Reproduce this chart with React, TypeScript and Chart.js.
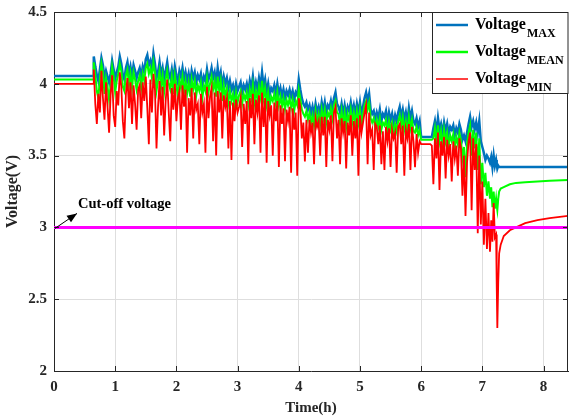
import React, { useEffect, useRef } from "react";
import { Chart, registerables } from "chart.js";

Chart.register(...registerables);

// ---------------- data ----------------
const timeH = [
  0, 0.64,
  0.650, 0.675, 0.700, 0.725, 0.750, 0.775, 0.800, 0.825, 0.850, 0.875,
  0.900, 0.925, 0.950, 0.975, 1.000, 1.025, 1.050, 1.075, 1.100, 1.125,
  1.150, 1.175, 1.200, 1.225, 1.250, 1.275, 1.300, 1.325, 1.350, 1.375,
  1.400, 1.425, 1.450, 1.475, 1.500, 1.525, 1.550, 1.575, 1.600, 1.625,
  1.650, 1.675, 1.700, 1.725, 1.750, 1.775, 1.800, 1.825, 1.850, 1.875,
  1.900, 1.925, 1.950, 1.975, 2.000, 2.025, 2.050, 2.075, 2.100, 2.125,
  2.150, 2.175, 2.200, 2.225, 2.250, 2.275, 2.300, 2.325, 2.350, 2.375,
  2.400, 2.425, 2.450, 2.475, 2.500, 2.525, 2.550, 2.575, 2.600, 2.625,
  2.650, 2.675, 2.700, 2.725, 2.750, 2.775, 2.800, 2.825, 2.850, 2.875,
  2.900, 2.925, 2.950, 2.975, 3.000, 3.025, 3.050, 3.075, 3.100, 3.125,
  3.150, 3.175, 3.200, 3.225, 3.250, 3.275, 3.300, 3.325, 3.350, 3.375,
  3.400, 3.425, 3.450, 3.475, 3.500, 3.525, 3.550, 3.575, 3.600, 3.625,
  3.650, 3.675, 3.700, 3.725, 3.750, 3.775, 3.800, 3.825, 3.850, 3.875,
  3.900, 3.925, 3.950, 3.975, 4.000, 4.025, 4.050, 4.075, 4.100, 4.125,
  4.150, 4.175, 4.200, 4.225, 4.250, 4.275, 4.300, 4.325, 4.350, 4.375,
  4.400, 4.425, 4.450, 4.475, 4.500, 4.525, 4.550, 4.575, 4.600, 4.625,
  4.650, 4.675, 4.700, 4.725, 4.750, 4.775, 4.800, 4.825, 4.850, 4.875,
  4.900, 4.925, 4.950, 4.975, 5.000, 5.025, 5.050, 5.075, 5.100, 5.125,
  5.150, 5.175, 5.200, 5.225, 5.250, 5.275, 5.300, 5.325, 5.350, 5.375,
  5.400, 5.425, 5.450, 5.475, 5.500, 5.525, 5.550, 5.575, 5.600, 5.625,
  5.650, 5.675, 5.700, 5.725, 5.750, 5.775, 5.800, 5.825, 5.850, 5.875,
  5.900, 5.925, 5.950, 5.975, 6.000, 6.025, 6.050, 6.075, 6.100, 6.125,
  6.150, 6.175, 6.200, 6.225, 6.250, 6.275, 6.300, 6.325, 6.350, 6.375,
  6.400, 6.425, 6.450, 6.475, 6.500, 6.525, 6.550, 6.575, 6.600, 6.625,
  6.650, 6.675, 6.700, 6.725, 6.750, 6.775, 6.800, 6.825, 6.850, 6.875,
  6.900, 6.925, 6.950, 6.975, 7.000, 7.025, 7.050, 7.075, 7.100, 7.125,
  7.145, 7.165, 7.185, 7.205, 7.225, 7.235, 7.245, 7.260, 7.275, 7.300,
  7.350, 7.450, 7.550, 7.700, 7.900, 8.100, 8.400,
];

const voltMax = [
  4.055, 4.055,
  4.19, 4.12, 4.06, 4.02, 4.10, 4.18, 4.13, 4.04, 4.09, 4.05,
  4.01, 4.07, 4.16, 4.10, 4.03, 4.08, 4.12, 4.19, 4.14, 4.06,
  4.03, 4.11, 4.15, 4.07, 4.12, 4.05, 4.13, 4.09, 4.04, 4.08,
  4.11, 4.05, 4.12, 4.08, 4.17, 4.20, 4.13, 4.16, 4.10, 4.21,
  4.14, 4.04, 4.08, 4.15, 4.06, 4.11, 4.03, 4.09, 4.15, 4.07,
  4.04, 4.10, 4.02, 4.12, 4.06, 4.01, 4.09, 4.05, 4.11, 4.03,
  4.08, 4.02, 4.07, 4.00, 4.09, 4.04, 4.08, 4.01, 4.06, 4.03,
  4.07, 3.99, 4.05, 4.02, 4.10, 4.03, 4.06, 4.11, 4.04, 4.08,
  4.00, 4.11, 4.03, 4.08, 3.98, 4.05, 4.00, 4.04, 3.97, 4.02,
  3.96, 3.99, 3.93, 4.00, 3.95, 3.98, 4.01, 3.94, 3.99, 3.96,
  4.00, 3.94, 4.02, 3.97, 4.05, 3.95, 4.01, 3.96, 4.04, 3.98,
  4.08, 3.98, 4.03, 3.94, 4.00, 3.92, 3.97, 3.95, 3.99, 3.93,
  4.00, 3.93, 3.97, 3.91, 3.96, 3.90, 3.95, 3.92, 3.96, 3.91,
  3.95, 3.89, 3.94, 3.92, 4.03, 3.96, 3.90, 3.86, 3.84, 3.87,
  3.82, 3.85, 3.79, 3.84, 3.78, 3.86, 3.80, 3.84, 3.79, 3.87,
  3.81, 3.87, 3.79, 3.85, 3.83, 3.88, 3.82, 3.90, 3.94, 3.86,
  3.84, 3.80, 3.86, 3.79, 3.85, 3.78, 3.84, 3.81, 3.87, 3.80,
  3.85, 3.79, 3.86, 3.80, 3.87, 3.78, 3.84, 3.90, 3.94, 3.88,
  3.93, 3.82, 3.79, 3.81, 3.75, 3.80, 3.76, 3.82, 3.74, 3.79,
  3.77, 3.81, 3.73, 3.80, 3.75, 3.79, 3.72, 3.78, 3.74, 3.80,
  3.84, 3.77, 3.82, 3.75, 3.80, 3.73, 3.83, 3.76, 3.81, 3.74,
  3.72, 3.76, 3.70, 3.74, 3.63, 3.63, 3.63, 3.63, 3.63, 3.63,
  3.63, 3.63, 3.69, 3.74, 3.66, 3.76, 3.68, 3.72, 3.65, 3.73,
  3.67, 3.72, 3.65, 3.70, 3.68, 3.71, 3.64, 3.69, 3.66, 3.72,
  3.68, 3.61, 3.64, 3.60, 3.66, 3.72, 3.77, 3.70, 3.74, 3.68,
  3.73, 3.66, 3.74, 3.60, 3.56, 3.52, 3.47, 3.50, 3.48, 3.45,
  3.49, 3.42, 3.50, 3.43, 3.47, 3.44, 3.41, 3.43, 3.42, 3.42,
  3.42, 3.42, 3.42, 3.42, 3.42, 3.42, 3.42,
];

const voltMean = [
  4.03, 4.03,
  4.15, 4.06, 3.95, 3.90, 4.04, 4.14, 4.08, 3.93, 4.04, 3.98,
  3.89, 3.99, 4.12, 4.05, 3.94, 4.02, 4.07, 4.14, 4.09, 3.98,
  3.95, 4.06, 4.10, 3.99, 4.07, 3.97, 4.08, 4.03, 3.96, 4.02,
  4.06, 3.97, 4.07, 4.02, 4.11, 4.14, 4.07, 4.11, 4.04, 4.15,
  4.08, 3.95, 4.02, 4.09, 3.97, 4.06, 3.94, 4.03, 4.09, 4.00,
  3.96, 4.05, 3.93, 4.06, 3.99, 3.91, 4.03, 3.97, 4.05, 3.94,
  4.02, 3.93, 4.01, 3.91, 4.03, 3.96, 4.02, 3.92, 3.99, 3.95,
  4.01, 3.90, 3.99, 3.95, 4.04, 3.94, 4.00, 4.05, 3.96, 4.02,
  3.91, 4.05, 3.95, 4.02, 3.88, 3.99, 3.91, 3.97, 3.87, 3.95,
  3.88, 3.93, 3.85, 3.94, 3.87, 3.92, 3.95, 3.86, 3.93, 3.89,
  3.94, 3.86, 3.96, 3.90, 3.99, 3.87, 3.95, 3.89, 3.98, 3.91,
  4.02, 3.90, 3.97, 3.86, 3.94, 3.84, 3.91, 3.88, 3.93, 3.86,
  3.94, 3.85, 3.91, 3.84, 3.90, 3.82, 3.89, 3.85, 3.90, 3.83,
  3.89, 3.81, 3.88, 3.85, 3.96, 3.90, 3.82, 3.79, 3.77, 3.81,
  3.75, 3.80, 3.72, 3.78, 3.71, 3.81, 3.73, 3.79, 3.72, 3.82,
  3.75, 3.82, 3.73, 3.80, 3.77, 3.83, 3.76, 3.85, 3.88, 3.80,
  3.79, 3.72, 3.81, 3.71, 3.80, 3.70, 3.79, 3.74, 3.82, 3.73,
  3.80, 3.72, 3.81, 3.73, 3.82, 3.71, 3.79, 3.85, 3.88, 3.82,
  3.87, 3.76, 3.73, 3.76, 3.69, 3.75, 3.70, 3.76, 3.68, 3.73,
  3.71, 3.75, 3.66, 3.74, 3.68, 3.73, 3.65, 3.72, 3.67, 3.74,
  3.78, 3.70, 3.77, 3.68, 3.74, 3.66, 3.77, 3.69, 3.75, 3.67,
  3.66, 3.70, 3.64, 3.68, 3.61, 3.61, 3.61, 3.61, 3.61, 3.61,
  3.61, 3.61, 3.62, 3.69, 3.58, 3.71, 3.60, 3.67, 3.56, 3.68,
  3.60, 3.66, 3.57, 3.64, 3.60, 3.65, 3.55, 3.63, 3.58, 3.66,
  3.61, 3.48, 3.56, 3.35, 3.58, 3.66, 3.71, 3.50, 3.68, 3.55,
  3.66, 3.40, 3.62, 3.30, 3.45, 3.28, 3.38, 3.22, 3.32, 3.20,
  3.28, 3.14, 3.25, 3.13, 3.20, 3.15, 3.12, 3.20, 3.25, 3.27,
  3.28, 3.30, 3.31, 3.315, 3.32, 3.325, 3.33,
];

const voltMin = [
  4.0, 4.0,
  4.10, 3.86, 3.72, 3.93, 3.80, 4.09, 3.90, 3.75, 4.01, 3.84,
  3.66, 3.92, 4.06, 3.78, 3.70, 3.95, 3.85, 4.08, 3.98, 3.74,
  3.62, 3.93, 4.04, 3.83, 4.01, 3.72, 3.99, 3.86, 3.68, 3.96,
  3.99, 3.76, 4.01, 3.88, 4.05, 3.83, 3.58, 4.03, 3.80, 4.07,
  3.96, 3.55, 3.84, 4.02, 3.78, 3.98, 3.64, 3.88, 4.03, 3.80,
  3.60, 3.97, 3.82, 4.00, 3.74, 3.90, 3.95, 3.68, 3.99, 3.84,
  3.96, 3.52, 3.90, 3.78, 3.97, 3.62, 3.94, 3.82, 3.86, 3.58,
  3.93, 3.80, 3.86, 3.52, 3.98, 3.76, 3.91, 3.97, 3.60, 3.94,
  3.50, 3.95, 3.80, 3.94, 3.62, 3.92, 3.84, 3.90, 3.55, 3.88,
  3.47, 3.87, 3.74, 3.89, 3.80, 3.84, 3.90, 3.56, 3.86, 3.72,
  3.88, 3.44, 3.90, 3.76, 3.93, 3.58, 3.89, 3.80, 3.92, 3.52,
  3.94, 3.70, 3.90, 3.45, 3.88, 3.78, 3.85, 3.50, 3.87, 3.74,
  3.88, 3.42, 3.85, 3.72, 3.83, 3.46, 3.82, 3.74, 3.84, 3.38,
  3.83, 3.68, 3.80, 3.36, 3.90, 3.84, 3.62, 3.73, 3.46, 3.75,
  3.52, 3.75, 3.66, 3.73, 3.44, 3.76, 3.70, 3.74, 3.50, 3.77,
  3.64, 3.77, 3.42, 3.75, 3.68, 3.78, 3.46, 3.80, 3.84, 3.62,
  3.75, 3.44, 3.76, 3.66, 3.74, 3.41, 3.73, 3.64, 3.78, 3.50,
  3.74, 3.62, 3.76, 3.36, 3.78, 3.66, 3.73, 3.80, 3.85, 3.44,
  3.80, 3.64, 3.68, 3.40, 3.72, 3.70, 3.58, 3.71, 3.44, 3.67,
  3.40, 3.70, 3.60, 3.69, 3.42, 3.68, 3.62, 3.66, 3.38, 3.70,
  3.72, 3.58, 3.71, 3.36, 3.68, 3.62, 3.72, 3.40, 3.70, 3.60,
  3.42, 3.65, 3.52, 3.60, 3.58, 3.58, 3.58, 3.58, 3.58, 3.58,
  3.58, 3.57, 3.30, 3.62, 3.48, 3.66, 3.26, 3.60, 3.50, 3.63,
  3.34, 3.61, 3.50, 3.58, 3.32, 3.60, 3.48, 3.57, 3.36, 3.62,
  3.55, 3.22, 3.50, 3.08, 3.45, 3.60, 3.66, 3.12, 3.62, 3.40,
  3.58, 2.96, 3.50, 3.02, 3.32, 2.88, 3.20, 2.85, 3.10, 2.83,
  3.05, 2.90, 3.17, 2.93, 2.95, 2.60, 2.30, 2.62, 2.82, 2.88,
  2.94, 2.98, 3.00, 3.03, 3.05, 3.065, 3.08,
];

const cutoffVoltage = 3;
const cutoffSpan = [0, 8.4];
const xTicks = [0, 1, 2, 3, 4, 5, 6, 7, 8];
const yTicks = [2, 2.5, 3, 3.5, 4, 4.5];
const legendMain = ["Voltage", "Voltage", "Voltage"];
const legendSub = ["MAX", "MEAN", "MIN"];
const seriesColors = ["#0072BD", "#00FF00", "#FF0000"];
const annotationText = "Cut-off voltage";
const xTitle = "Time(h)";
const yTitle = "Voltage(V)";

const FONT = "'Liberation Serif', 'Times New Roman', serif";
const AXIS = "#262626";

const toPoints = (ys: number[]) => timeH.map((t, i) => ({ x: t, y: ys[i] }));

const decorPlugin = {
  id: "decor",
  afterDraw(chart: any) {
    const { ctx, chartArea, scales } = chart;
    const { left, right, top, bottom } = chartArea;
    const xs = scales.x;
    const ys = scales.y;
    ctx.save();
    ctx.strokeStyle = AXIS;
    ctx.lineWidth = 1;
    ctx.beginPath();
    ctx.moveTo(left, top + 0.5);
    ctx.lineTo(right, top + 0.5);
    ctx.moveTo(right - 0.5, top);
    ctx.lineTo(right - 0.5, bottom);
    ctx.stroke();
    const tl = 5;
    ctx.beginPath();
    xTicks.forEach((v) => {
      const px = Math.round(xs.getPixelForValue(v)) + 0.5;
      ctx.moveTo(px, bottom);
      ctx.lineTo(px, bottom - tl);
      ctx.moveTo(px, top);
      ctx.lineTo(px, top + tl);
    });
    yTicks.forEach((v) => {
      const py = Math.round(ys.getPixelForValue(v)) + 0.5;
      ctx.moveTo(left, py);
      ctx.lineTo(left + tl, py);
      ctx.moveTo(right, py);
      ctx.lineTo(right - tl, py);
    });
    ctx.stroke();

    // annotation arrow + text
    const ax = xs.getPixelForValue(0) + 1;
    const ay = ys.getPixelForValue(cutoffVoltage) + 1;
    const tx = ax + 22;
    const ty = ay - 15;
    ctx.strokeStyle = "#000";
    ctx.fillStyle = "#000";
    ctx.lineWidth = 1;
    ctx.beginPath();
    ctx.moveTo(ax, ay);
    ctx.lineTo(tx, ty);
    ctx.stroke();
    const ang = Math.atan2(ty - ay, tx - ax);
    const hl = 10, hw = 4;
    ctx.beginPath();
    ctx.moveTo(tx, ty);
    ctx.lineTo(tx - hl * Math.cos(ang) + hw * Math.sin(ang), ty - hl * Math.sin(ang) - hw * Math.cos(ang));
    ctx.lineTo(tx - hl * Math.cos(ang) - hw * Math.sin(ang), ty - hl * Math.sin(ang) + hw * Math.cos(ang));
    ctx.closePath();
    ctx.fill();
    ctx.font = `bold 14.5px ${FONT}`;
    ctx.textAlign = "left";
    ctx.textBaseline = "alphabetic";
    ctx.fillText(annotationText, tx + 1, ty - 5);

    // legend
    const bx = 432.5, by = top + 0.5, bw = right - 432.5, bh = 81;
    ctx.fillStyle = "#fff";
    ctx.fillRect(bx, by, bw, bh);
    ctx.strokeStyle = AXIS;
    ctx.lineWidth = 1;
    ctx.strokeRect(bx, by, bw, bh);
    legendMain.forEach((label, i) => {
      const ly = top + 13 + i * 27;
      ctx.strokeStyle = seriesColors[i];
      ctx.lineWidth = i === 2 ? 1.5 : 2.5;
      ctx.beginPath();
      ctx.moveTo(436, ly);
      ctx.lineTo(468, ly);
      ctx.stroke();
      ctx.fillStyle = "#000";
      ctx.font = `bold 16px ${FONT}`;
      ctx.fillText(label, 475, ly + 4);
      const w = ctx.measureText(label).width;
      ctx.font = `bold 12px ${FONT}`;
      ctx.fillText(legendSub[i], 475 + w + 1, ly + 11.5);
    });
    ctx.restore();
  },
};

export default function App() {
  const ref = useRef<HTMLCanvasElement | null>(null);
  useEffect(() => {
    document.body.style.margin = "0";
    const canvas = ref.current;
    if (!canvas) return;
    const chart = new Chart(canvas, {
      type: "line",
      data: {
        datasets: [
          {
            label: "Cut-off",
            data: cutoffSpan.map((t) => ({ x: t, y: cutoffVoltage })),
            borderColor: "#FF00FF",
            borderWidth: 3,
            pointRadius: 0,
            order: 0,
          },
          {
            label: "Voltage MIN",
            data: toPoints(voltMin),
            borderColor: seriesColors[2],
            borderWidth: 1.8,
            pointRadius: 0,
            order: 1,
          },
          {
            label: "Voltage MEAN",
            data: toPoints(voltMean),
            borderColor: seriesColors[1],
            borderWidth: 2,
            pointRadius: 0,
            order: 2,
          },
          {
            label: "Voltage MAX",
            data: toPoints(voltMax),
            borderColor: seriesColors[0],
            borderWidth: 2.5,
            pointRadius: 0,
            order: 3,
          },
        ],
      },
      options: {
        animation: false,
        responsive: false,
        devicePixelRatio: 1,
        layout: { padding: { top: 12, right: 1, left: 0, bottom: 0 } },
        plugins: { legend: { display: false }, tooltip: { enabled: false } },
        elements: { line: { tension: 0 } },
        scales: {
          x: {
            type: "linear",
            min: 0,
            max: 8.4,
            afterBuildTicks: (s: any) => {
              s.ticks = xTicks.map((v) => ({ value: v }));
            },
            afterFit: (s: any) => {
              s.height = 47;
              s.paddingLeft = 0;
              s.paddingRight = 0;
            },
            grid: { color: "#dedede", drawTicks: false, lineWidth: 1 },
            border: { color: AXIS, width: 1 },
            ticks: {
              color: "#262626",
              padding: 7,
              maxRotation: 0,
              font: { family: FONT, size: 15, weight: "bold" },
              callback: (v: any) => String(v),
            },
            title: {
              display: true,
              text: xTitle,
              color: "#262626",
              font: { family: FONT, size: 15, weight: "bold" },
              padding: { top: 0, bottom: 1 },
            },
          },
          y: {
            type: "linear",
            min: 2,
            max: 4.5,
            afterBuildTicks: (s: any) => {
              s.ticks = yTicks.map((v) => ({ value: v }));
            },
            afterFit: (s: any) => {
              s.width = 54;
              s.paddingTop = 0;
              s.paddingBottom = 0;
            },
            grid: { color: "#dedede", drawTicks: false, lineWidth: 1 },
            border: { color: AXIS, width: 1 },
            ticks: {
              color: "#262626",
              padding: 7,
              font: { family: FONT, size: 15, weight: "bold" },
              callback: (v: any) => String(v),
            },
            title: {
              display: true,
              text: yTitle,
              color: "#262626",
              font: { family: FONT, size: 16, weight: "bold" },
              padding: { top: 3, bottom: 0 },
            },
          },
        },
      } as any,
      plugins: [decorPlugin],
    });
    return () => chart.destroy();
  }, []);
  return (
    <div style={{ width: 569, height: 418, background: "#fff" }}>
      <canvas ref={ref} width={569} height={418} style={{ display: "block" }} />
    </div>
  );
}
